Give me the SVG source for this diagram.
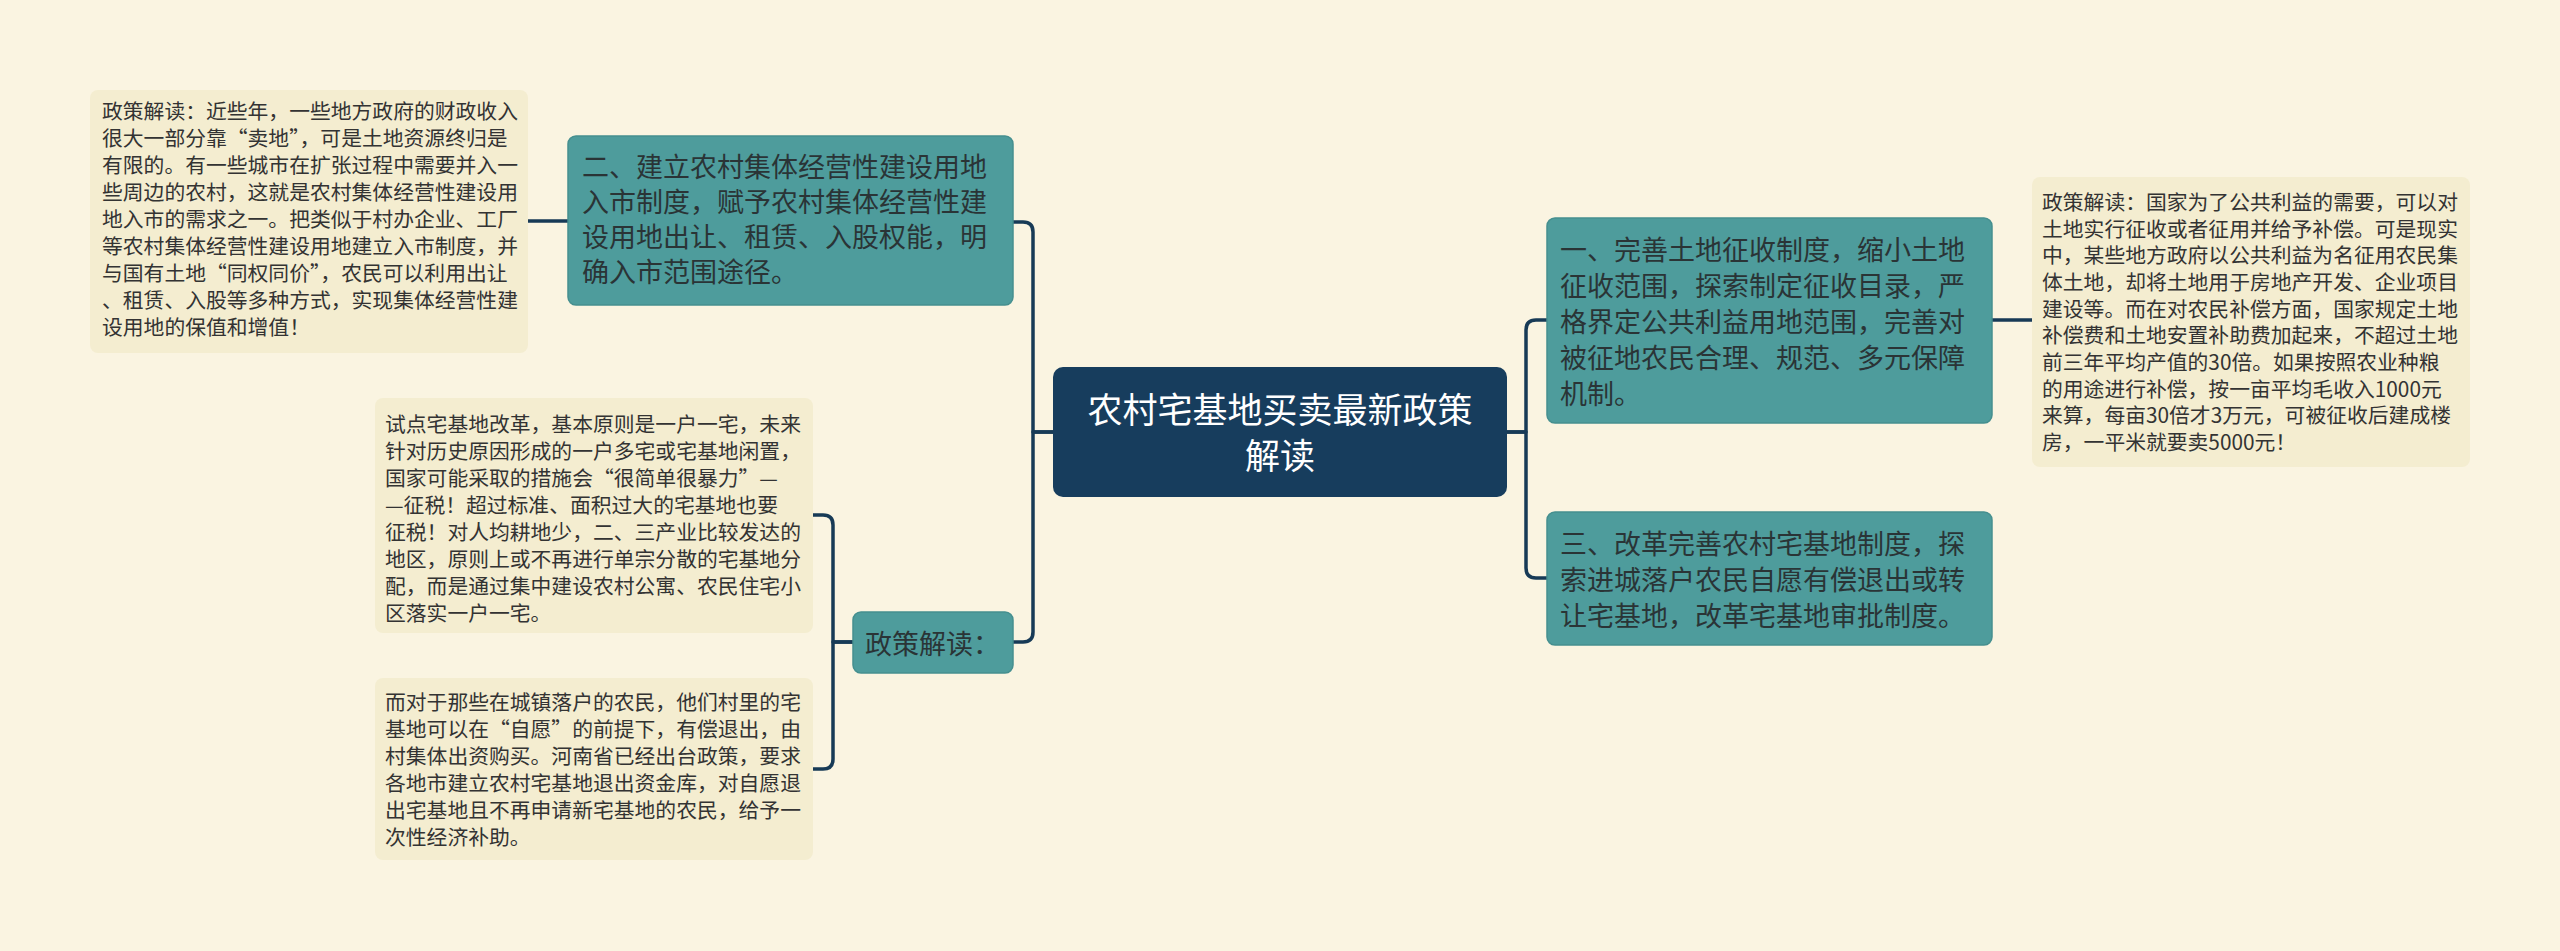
<svg xmlns="http://www.w3.org/2000/svg" width="2560" height="951" viewBox="0 0 2560 951">
<style>
.bg{fill:#faf4e1}
.leaf{fill:#f4edd0}
.mid{fill:#4e9c9c;stroke:#458f8f;stroke-width:1.5}
.root{fill:#173d5d}
.lt{font-family:"Noto Sans CJK SC","Noto Sans",sans-serif;font-size:20.8px;fill:#333}
.mt{font-family:"Noto Sans CJK SC","Noto Sans",sans-serif;font-size:27px;fill:#2a3436}
.rt{font-family:"Noto Sans CJK SC","Noto Sans",sans-serif;font-size:35px;fill:#ffffff;text-anchor:middle}
.ln{fill:none;stroke:#173a56;stroke-width:3.5;stroke-linejoin:round}
</style>
<rect class="bg" x="0" y="0" width="2560" height="951"/>
<g id="connectors">
<path class="ln" d="M1053,432 H1033 V232 Q1033,222 1023,222 H1013"/>
<path class="ln" d="M1053,432 H1033 V632 Q1033,642 1023,642 H1013"/>
<path class="ln" d="M1507,432 H1526 V330 Q1526,320 1536,320 H1547"/>
<path class="ln" d="M1507,432 H1526 V568 Q1526,578 1536,578 H1547"/>
<path class="ln" d="M853,642 H833 V525 Q833,515 823,515 H813"/>
<path class="ln" d="M853,642 H833 V759 Q833,769 823,769 H813"/>
<path class="ln" d="M568,221 H528"/>
<path class="ln" d="M1992,320 H2032"/>
</g>
<g id="root">
<rect class="root" x="1053" y="367" width="454" height="130" rx="10"/>
<text class="rt" x="1280" y="423">农村宅基地买卖最新政策</text>
<text class="rt" x="1280" y="469">解读</text>
</g>
<g id="node-two">
<rect class="mid" x="568" y="136" width="445" height="169" rx="8"/>
<text class="mt" x="582" y="177">二、建立农村集体经营性建设用地</text>
<text class="mt" x="582" y="212">入市制度，赋予农村集体经营性建</text>
<text class="mt" x="582" y="247">设用地出让、租赁、入股权能，明</text>
<text class="mt" x="582" y="282">确入市范围途径。</text>
</g>
<g id="node-policy">
<rect class="mid" x="853" y="612" width="160" height="61" rx="8"/>
<text class="mt" x="865" y="654">政策解读：</text>
</g>
<g id="node-one">
<rect class="mid" x="1547" y="218" width="445" height="205" rx="8"/>
<text class="mt" x="1560" y="260">一、完善土地征收制度，缩小土地</text>
<text class="mt" x="1560" y="296">征收范围，探索制定征收目录，严</text>
<text class="mt" x="1560" y="332">格界定公共利益用地范围，完善对</text>
<text class="mt" x="1560" y="368">被征地农民合理、规范、多元保障</text>
<text class="mt" x="1560" y="404">机制。</text>
</g>
<g id="node-three">
<rect class="mid" x="1547" y="512" width="445" height="133" rx="8"/>
<text class="mt" x="1560" y="554">三、改革完善农村宅基地制度，探</text>
<text class="mt" x="1560" y="590">索进城落户农民自愿有偿退出或转</text>
<text class="mt" x="1560" y="626">让宅基地，改革宅基地审批制度。</text>
</g>
<g id="leaf-left-1">
<rect class="leaf" x="90" y="90" width="438" height="263" rx="8"/>
<text class="lt" x="102" y="119">政策解读：近些年，一些地方政府的财政收入</text>
<text class="lt" x="102" y="146">很大一部分靠“卖地”，可是土地资源终归是</text>
<text class="lt" x="102" y="173">有限的。有一些城市在扩张过程中需要并入一</text>
<text class="lt" x="102" y="200">些周边的农村，这就是农村集体经营性建设用</text>
<text class="lt" x="102" y="227">地入市的需求之一。把类似于村办企业、工厂</text>
<text class="lt" x="102" y="254">等农村集体经营性建设用地建立入市制度，并</text>
<text class="lt" x="102" y="281">与国有土地“同权同价”，农民可以利用出让</text>
<text class="lt" x="102" y="308">、租赁、入股等多种方式，实现集体经营性建</text>
<text class="lt" x="102" y="335">设用地的保值和增值！</text>
</g>
<g id="leaf-left-2">
<rect class="leaf" x="375" y="398" width="438" height="235" rx="8"/>
<text class="lt" x="385" y="432">试点宅基地改革，基本原则是一户一宅，未来</text>
<text class="lt" x="385" y="459">针对历史原因形成的一户多宅或宅基地闲置，</text>
<text class="lt" x="385" y="486">国家可能采取的措施会“很简单很暴力”—</text>
<text class="lt" x="385" y="513">—征税！超过标准、面积过大的宅基地也要</text>
<text class="lt" x="385" y="540">征税！对人均耕地少，二、三产业比较发达的</text>
<text class="lt" x="385" y="567">地区，原则上或不再进行单宗分散的宅基地分</text>
<text class="lt" x="385" y="594">配，而是通过集中建设农村公寓、农民住宅小</text>
<text class="lt" x="385" y="621">区落实一户一宅。</text>
</g>
<g id="leaf-left-3">
<rect class="leaf" x="375" y="678" width="438" height="182" rx="8"/>
<text class="lt" x="385" y="710">而对于那些在城镇落户的农民，他们村里的宅</text>
<text class="lt" x="385" y="737">基地可以在“自愿”的前提下，有偿退出，由</text>
<text class="lt" x="385" y="764">村集体出资购买。河南省已经出台政策，要求</text>
<text class="lt" x="385" y="791">各地市建立农村宅基地退出资金库，对自愿退</text>
<text class="lt" x="385" y="818">出宅基地且不再申请新宅基地的农民，给予一</text>
<text class="lt" x="385" y="845">次性经济补助。</text>
</g>
<g id="leaf-right">
<rect class="leaf" x="2032" y="177" width="438" height="290" rx="8"/>
<text class="lt" x="2042" y="210">政策解读：国家为了公共利益的需要，可以对</text>
<text class="lt" x="2042" y="237">土地实行征收或者征用并给予补偿。可是现实</text>
<text class="lt" x="2042" y="263">中，某些地方政府以公共利益为名征用农民集</text>
<text class="lt" x="2042" y="290">体土地，却将土地用于房地产开发、企业项目</text>
<text class="lt" x="2042" y="317">建设等。而在对农民补偿方面，国家规定土地</text>
<text class="lt" x="2042" y="343">补偿费和土地安置补助费加起来，不超过土地</text>
<text class="lt" x="2042" y="370">前三年平均产值的30倍。如果按照农业种粮</text>
<text class="lt" x="2042" y="397">的用途进行补偿，按一亩平均毛收入1000元</text>
<text class="lt" x="2042" y="423">来算，每亩30倍才3万元，可被征收后建成楼</text>
<text class="lt" x="2042" y="450">房，一平米就要卖5000元！</text>
</g>
</svg>
